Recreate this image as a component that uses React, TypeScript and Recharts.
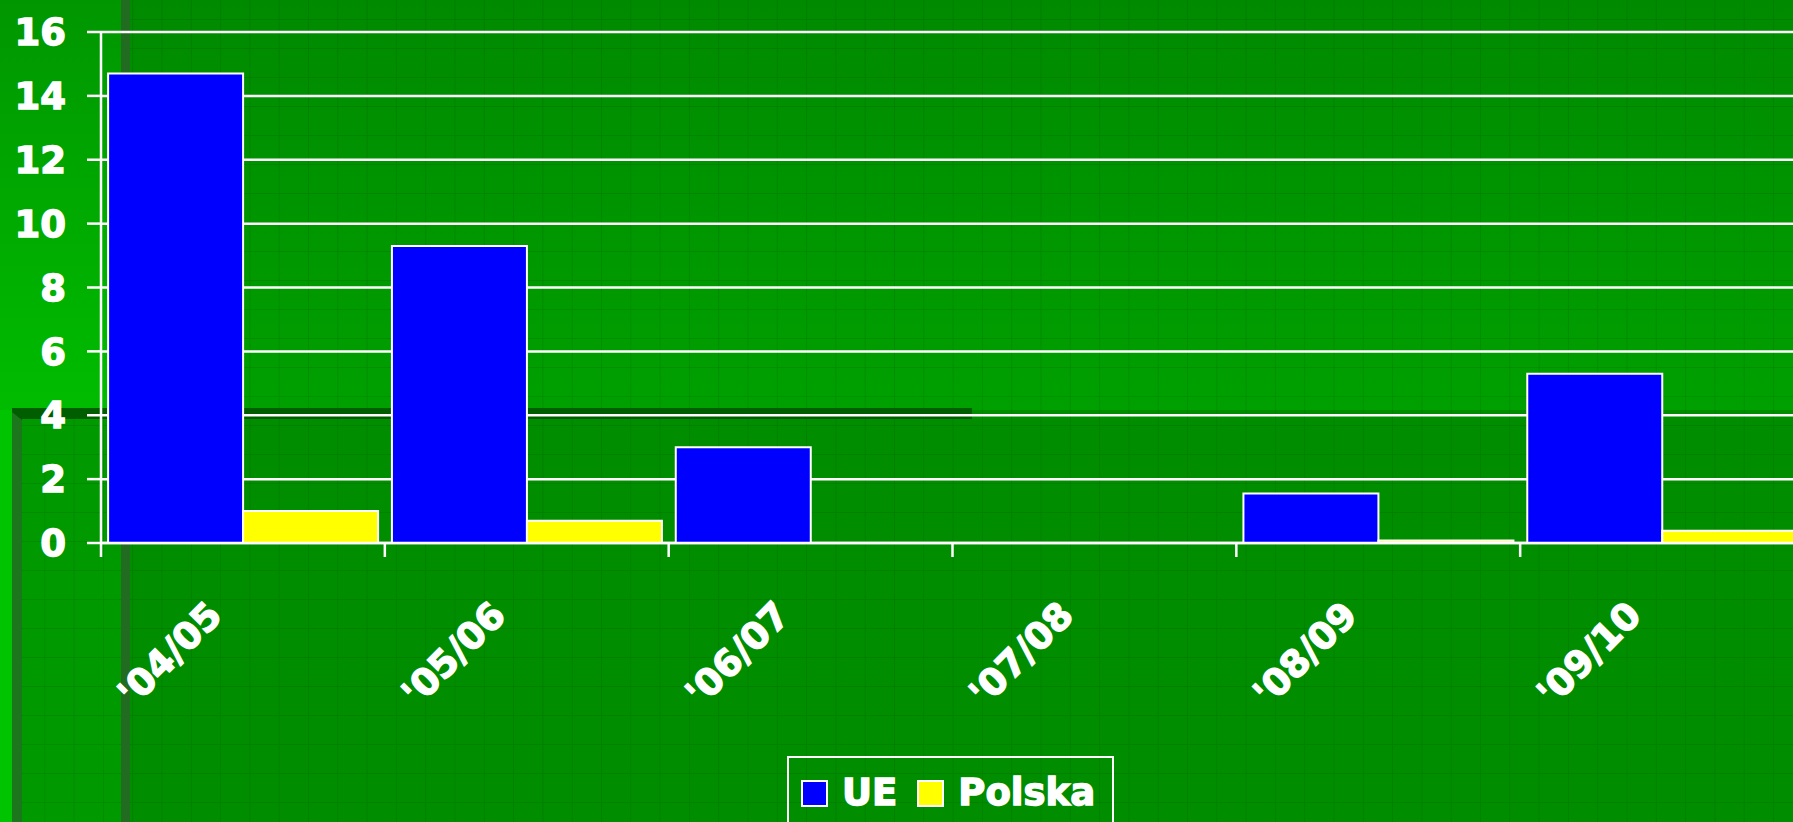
import { BarChart, Bar, XAxis, YAxis, CartesianGrid } from 'recharts'

const years = ["'04/05", "'05/06", "'06/07", "'07/08", "'08/09", "'09/10"]
const ueValues = [14.7, 9.3, 3.0, 0, 1.55, 5.3]
const polskaValues = [1.0, 0.7, 0, 0, 0.08, 0.38]
const yTicks = [0, 2, 4, 6, 8, 10, 12, 14, 16]
const seriesKeys = ['ue', 'polska']
const seriesNames = ['UE', 'Polska']
const seriesColors = ['#0000ff', '#ffff00']

const data = years.map((year, i) => ({ year, ue: ueValues[i], polska: polskaValues[i] }))

const FONT = '"DejaVu Sans", Verdana, sans-serif'
const W = 1793
const H = 822
const CHART_W = 1830
const AXIS_W = 101
const RIGHT = 26
const BAND = (CHART_W - AXIS_W - RIGHT) / years.length

function YearTick({ x, y, payload }: any) {
  const bx = x - BAND / 2
  const cx = x - 73
  const cy = y + 97
  return (
    <g>
      <line x1={bx} y1={y - 14} x2={bx} y2={y} stroke="#fff" strokeWidth={2.5} />
      <text
        x={cx}
        y={cy}
        transform={`rotate(-45 ${cx} ${cy})`}
        textAnchor="middle"
        dominantBaseline="central"
        fill="#fff"
        stroke="#fff"
        strokeWidth={1.4}
        fontSize={37}
        fontWeight="bold"
        fontFamily={FONT}
      >
        {payload.value}
      </text>
    </g>
  )
}

// slide background: green panels with faint grid texture
function Backdrop() {
  return (
    <svg width={W} height={H} style={{ position: 'absolute', left: 0, top: 0 }}>
      <defs>
        <linearGradient id="mainTop" x1="0" y1="0" x2="0" y2="1">
          <stop offset="0" stopColor="#008a00" />
          <stop offset="1" stopColor="#00a000" />
        </linearGradient>
        <linearGradient id="leftTop" x1="0" y1="0" x2="0" y2="1">
          <stop offset="0" stopColor="#009600" />
          <stop offset="1" stopColor="#00bc00" />
        </linearGradient>
        <pattern id="grid" width={29.3} height={29} patternUnits="userSpaceOnUse" x={15} y={19}>
          <path d="M 0 0 L 0 29 M 0 0 L 29.3 0" stroke="rgba(0,40,0,0.16)" strokeWidth={1.5} fill="none" />
        </pattern>
      </defs>
      <rect x={0} y={0} width={W} height={410} fill="url(#mainTop)" />
      <rect x={0} y={410} width={W} height={H - 410} fill="#008e00" />
      <rect x={22} y={410} width={100} height={H - 410} fill="#009a00" />
      <rect x={0} y={0} width={W} height={H} fill="url(#grid)" />
      <rect x={0} y={0} width={121} height={410} fill="url(#leftTop)" />
      <rect x={0} y={410} width={12} height={H - 410} fill="#00c400" />
      <rect x={12} y={410} width={10} height={H - 410} fill="#1c761c" />
      <rect x={121} y={0} width={9} height={H} fill="#216c21" />
      <polygon points="12,408 972,408 972,419 22,419 22,420 12,412" fill="#005e00" />
    </svg>
  )
}

function Legend() {
  return (
    <div
      style={{
        position: 'absolute',
        left: 787,
        top: 756,
        width: 327,
        height: 90,
        border: '2px solid #fff',
        boxSizing: 'border-box',
        display: 'flex',
        alignItems: 'flex-start',
        paddingLeft: 12,
        paddingTop: 20,
        fontFamily: FONT,
        fontWeight: 'bold',
        fontSize: 37,
        color: '#fff',
        WebkitTextStroke: '1.4px #fff',
      }}
    >
      {seriesNames.map((name, i) => (
        <div key={name} style={{ display: 'flex', alignItems: 'center', marginRight: 20, height: 30 }}>
          <div
            style={{
              width: 27,
              height: 27,
              background: seriesColors[i],
              border: '2px solid #fff',
              boxSizing: 'border-box',
              marginRight: 14,
            }}
          />
          <span style={{ lineHeight: '30px' }}>{name}</span>
        </div>
      ))}
    </div>
  )
}

export default function App() {
  return (
    <div style={{ position: 'absolute', left: 0, top: 0, width: W, height: H, overflow: 'hidden' }}>
      <Backdrop />
      <div style={{ position: 'absolute', left: 0, top: 0 }}>
        <BarChart
          width={CHART_W}
          height={H}
          data={data}
          margin={{ top: 32, right: RIGHT, bottom: 79, left: 0 }}
          barCategoryGap="2.5%"
          barGap={0}
        >
          <CartesianGrid vertical={false} stroke="#fff" strokeWidth={2.5} />
          <XAxis
            dataKey="year"
            height={200}
            interval={0}
            tickSize={14}
            tickMargin={0}
            tickLine={false}
            axisLine={{ stroke: '#fff', strokeWidth: 2.5 }}
            tick={<YearTick />}
          />
          <YAxis
            width={AXIS_W}
            domain={[0, 16]}
            ticks={yTicks}
            interval={0}
            tickSize={14}
            tickMargin={21}
            axisLine={{ stroke: '#fff', strokeWidth: 2.5 }}
            tickLine={{ stroke: '#fff', strokeWidth: 2.5 }}
            tick={{ fill: '#fff', stroke: '#fff', strokeWidth: 1.4, fontSize: 37, fontWeight: 'bold', fontFamily: FONT }}
          />
          {seriesKeys.map((key, i) => (
            <Bar
              key={key}
              dataKey={key}
              name={seriesNames[i]}
              fill={seriesColors[i]}
              stroke="#fff"
              strokeWidth={2}
              isAnimationActive={false}
            />
          ))}
        </BarChart>
      </div>
      <Legend />
    </div>
  )
}
